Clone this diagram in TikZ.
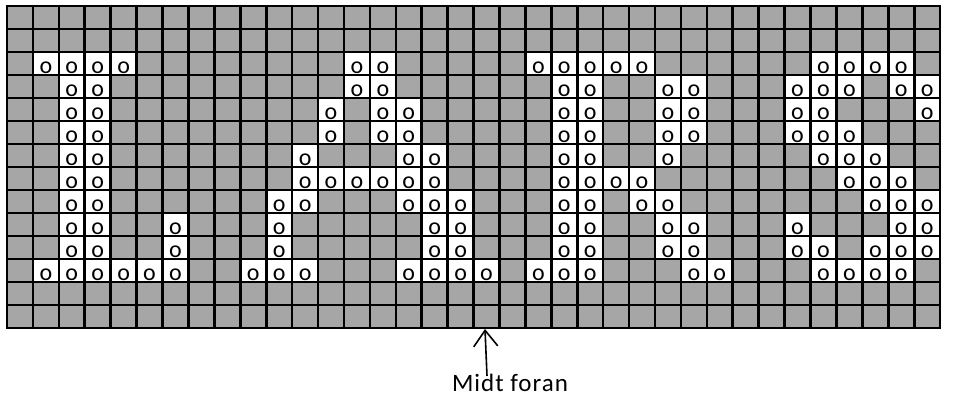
\documentclass[tikz,border=0pt]{standalone}
\usepackage{fontspec}
\setmainfont{Carlito}
\newfontfamily\spacedfont[LetterSpace=4]{Carlito}
\usetikzlibrary{arrows.meta,calc}
\definecolor{cellgray}{RGB}{166,166,166}
\newcommand\cw{25.92}
\newcommand\ch{23}
\begin{document}
\begin{tikzpicture}[x=1pt,y=-1pt,
  ocell/.style={fill=white,draw=none,minimum width=\cw pt,minimum height=\ch pt,inner sep=0pt},
  oletter/.style={anchor=base,inner sep=0pt,font=\fontsize{24}{26}\selectfont},
  gridline/.style={line width=2.6pt,line cap=rect},
  midtlabel/.style={font=\spacedfont\fontsize{25}{30}\selectfont,anchor=base,inner sep=0pt,text depth=0pt}]
\useasboundingbox (0,0) rectangle (961,398);
\fill[cellgray] (7,6) rectangle (940,328);
\newcommand\orow[2]{%
  \foreach \c in {#2}{%
    \node[ocell] (c-#1-\c) at ({7+\c*\cw+\cw/2},{6+#1*\ch+\ch/2}) {};
    \node[oletter] (o-#1-\c) at ($(c-#1-\c.south)+(0,-2)$) {o};
  }}
\orow{2}{1,2,3,4,13,14,20,21,22,23,24,31,32,33,34}
\orow{3}{2,3,13,14,21,22,25,26,30,31,32,34,35}
\orow{4}{2,3,12,14,15,21,22,25,26,30,31,35}
\orow{5}{2,3,12,14,15,21,22,25,26,30,31,32}
\orow{6}{2,3,11,15,16,21,22,25,31,32,33}
\orow{7}{2,3,11,12,13,14,15,16,21,22,23,24,32,33,34}
\orow{8}{2,3,10,11,15,16,17,21,22,24,25,33,34,35}
\orow{9}{2,3,6,10,16,17,21,22,25,26,30,34,35}
\orow{10}{2,3,6,10,16,17,21,22,25,26,30,31,33,34,35}
\orow{11}{1,2,3,4,5,6,9,10,11,15,16,17,18,20,21,22,26,27,31,32,33,34}
\foreach \i in {0,...,36}{\draw[gridline] ({7+\i*\cw},6) -- ({7+\i*\cw},328);}
\foreach \j in {0,...,14}{\draw[gridline] (7,{6+\j*\ch}) -- (940,{6+\j*\ch});}
\node[midtlabel] (lbl) at (510,391) {Midt foran};
\coordinate (tail) at (487,376);
\coordinate (tip) at (485,329);
\draw[line width=1.6pt,-{Straight Barb[length=16pt,width=24pt,line width=1.6pt]}] (tail) -- (tip);
\end{tikzpicture}
\end{document}
